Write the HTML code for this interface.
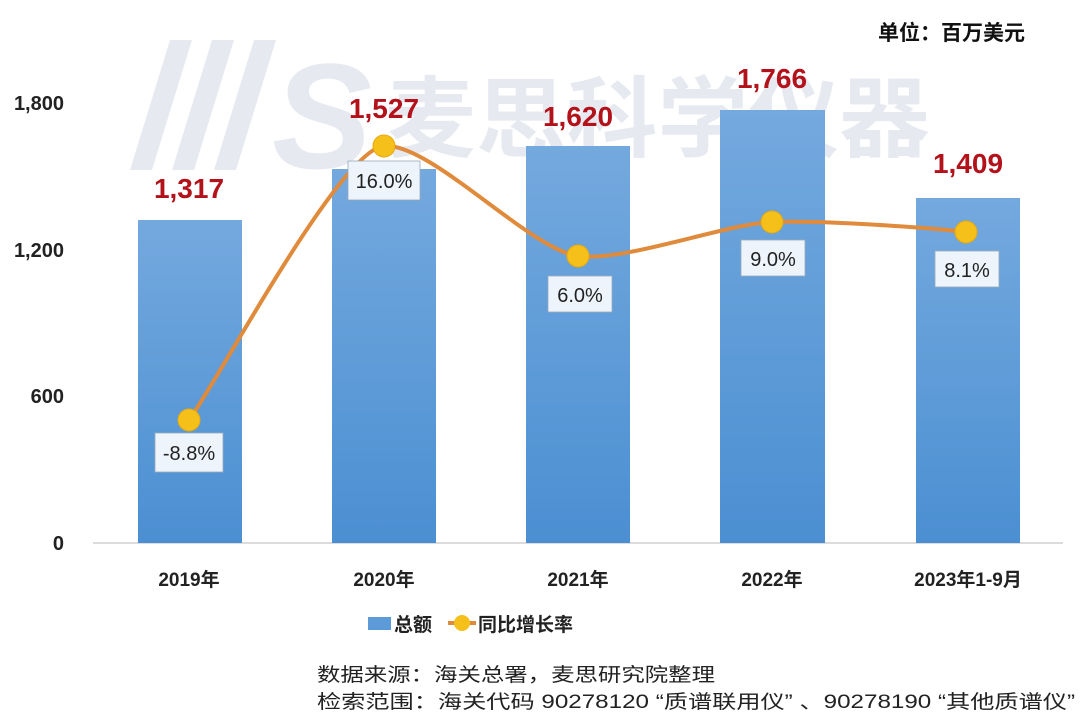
<!DOCTYPE html>
<html><head><meta charset="utf-8"><style>
body{margin:0;background:#fff}
svg{display:block;font-family:"Liberation Sans","Noto Sans CJK SC",sans-serif}
</style></head><body>
<svg width="1080" height="727" viewBox="0 0 1080 727">
<defs>
<linearGradient id="g" x1="0" y1="0" x2="0" y2="1"><stop offset="0" stop-color="#74a9de"/><stop offset="1" stop-color="#4b8fd2"/></linearGradient>
</defs>
<!-- watermark -->
<g fill="#e6eaf0">
<polygon points="170,40 192,40 152,170 130,170"/>
<polygon points="212,40 234,40 194,170 172,170"/>
<polygon points="254,40 276,40 236,170 214,170"/>
<text x="272" y="168" font-size="150" font-style="italic" font-weight="bold" font-family="Liberation Sans,sans-serif">S</text>
<text x="385" y="150" font-size="88" font-weight="bold" textLength="545" lengthAdjust="spacingAndGlyphs">麦思科学仪器</text>
</g>
<text x="1025" y="40" font-size="21" font-weight="bold" text-anchor="end" fill="#111">单位：百万美元</text>
<g font-size="20" font-weight="bold" fill="#222" text-anchor="end">
<text x="64" y="110">1,800</text><text x="64" y="257">1,200</text><text x="64" y="403">600</text><text x="64" y="550">0</text>
</g>
<line x1="93" y1="543" x2="1063" y2="543" stroke="#d0d0d0" stroke-width="1.5"/>
<rect x="138" y="220" width="104" height="323" fill="url(#g)"/>
<rect x="332" y="169" width="104" height="374" fill="url(#g)"/>
<rect x="526" y="146" width="104" height="397" fill="url(#g)"/>
<rect x="720" y="110" width="105" height="433" fill="url(#g)"/>
<rect x="916" y="198" width="104" height="345" fill="url(#g)"/>
<g font-size="28" font-weight="bold" fill="#b3121b" text-anchor="middle">
<text x="189" y="198">1,317</text><text x="384" y="118">1,527</text><text x="578" y="126">1,620</text><text x="772" y="88">1,766</text><text x="968" y="173">1,409</text>
</g>
<path d="M189,420 C222,374 340,150 384,146 C430,142 530,250 578,256 C625,262 725,224 772,222 C820,220 935,228 966,232" fill="none" stroke="#e08a3c" stroke-width="4"/>
<g fill="#f6c01a" stroke="#e9a80c" stroke-width="1">
<circle cx="189" cy="420" r="11"/><circle cx="384" cy="146" r="11"/><circle cx="578" cy="256" r="11"/><circle cx="772" cy="222" r="11"/><circle cx="966" cy="232" r="11"/>
</g>
<g fill="#eef4fb" stroke="#9ab" stroke-width="0.8">
<rect x="155" y="433" width="68" height="39"/><rect x="348" y="161" width="72" height="39"/><rect x="548" y="276" width="64" height="36"/><rect x="741" y="240" width="64" height="36"/><rect x="935" y="251" width="64" height="36"/>
</g>
<g font-size="20" fill="#222" text-anchor="middle">
<text x="189" y="460">-8.8%</text><text x="384" y="188">16.0%</text><text x="580" y="302">6.0%</text><text x="773" y="266">9.0%</text><text x="967" y="277">8.1%</text>
</g>
<g font-size="19" font-weight="bold" fill="#222" text-anchor="middle">
<text x="189" y="586">2019年</text><text x="384" y="586">2020年</text><text x="578" y="586">2021年</text><text x="772" y="586">2022年</text><text x="968" y="586">2023年1-9月</text>
</g>
<rect x="368" y="617" width="23" height="13" fill="#5d9ad8"/>
<text x="394" y="631" font-size="19" font-weight="bold" fill="#222">总额</text>
<line x1="448" y1="623" x2="476" y2="623" stroke="#e08a3c" stroke-width="4"/>
<circle cx="462" cy="623" r="8" fill="#f6c01a"/>
<text x="478" y="631" font-size="19" font-weight="bold" fill="#222">同比增长率</text>
<g font-size="19" fill="#222">
<text x="317" y="681" textLength="398" lengthAdjust="spacingAndGlyphs">数据来源：海关总署，麦思研究院整理</text>
<text x="317" y="708" textLength="758" lengthAdjust="spacingAndGlyphs">检索范围：海关代码 90278120 “质谱联用仪” 、90278190 “其他质谱仪”</text>
</g>
</svg>
</body></html>
